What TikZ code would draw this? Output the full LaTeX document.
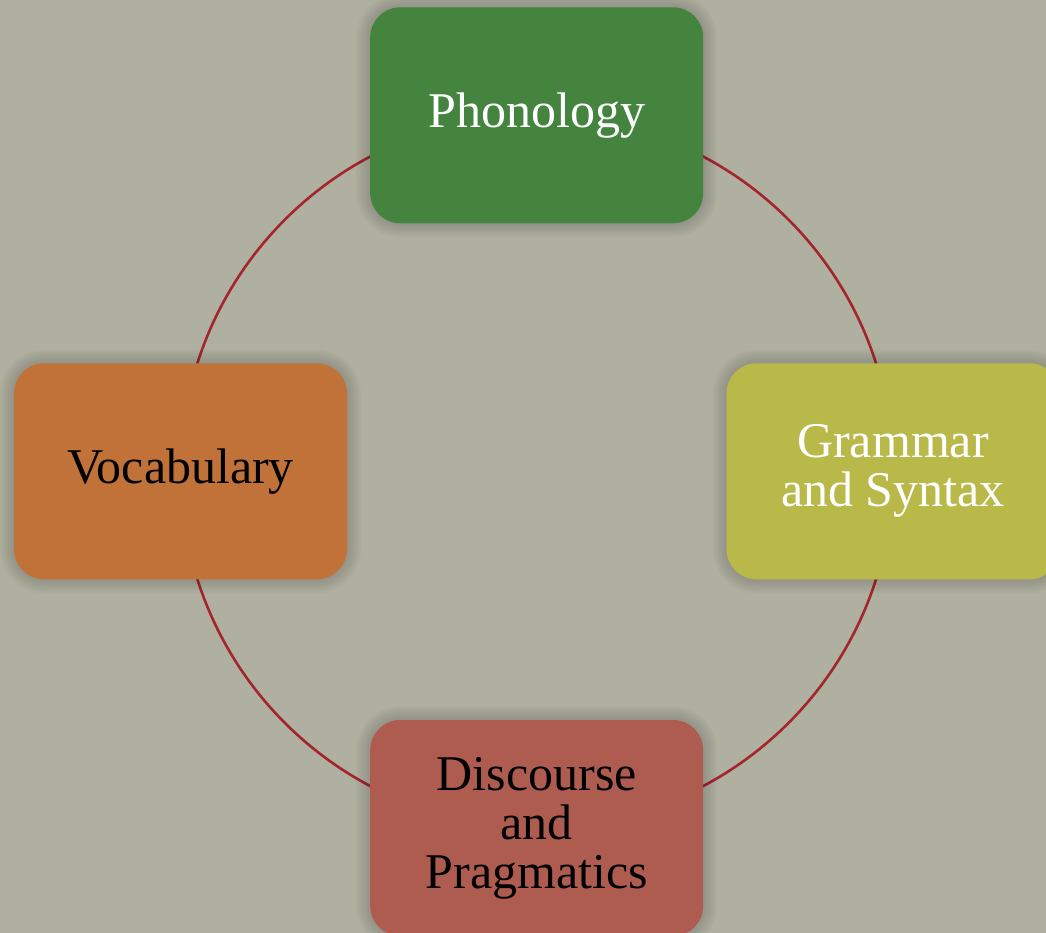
\documentclass[tikz,border=0pt]{standalone}
\usepackage{fontspec}
\setmainfont{Liberation Serif}
\definecolor{bgcol}{HTML}{B0B0A0}
\definecolor{ringcol}{HTML}{A3262E}
\definecolor{phocol}{HTML}{44843E}
\definecolor{gracol}{HTML}{B8B948}
\definecolor{voccol}{HTML}{C07238}
\definecolor{discol}{HTML}{AE5C50}
\tikzset{
  topicbox/.style={rectangle, rounded corners=30pt, minimum width=333pt, minimum height=216pt,
    inner sep=0pt, align=center, font=\fontsize{50}{49}\selectfont},
  halo/.style={rectangle, rounded corners=30pt+#1, minimum width=333pt+2*#1, minimum height=216pt+2*#1,
    fill=black, fill opacity=0.018, draw=none, inner sep=0pt},
  ring/.style={draw=ringcol, line width=2.6pt}
}
\newcommand{\shadowlayers}[2]{%
  \foreach \s in {2,4,...,14} {\node[halo=\s pt] (#2sh\s) at #1 {};}%
}
\begin{document}
\begin{tikzpicture}[x=1pt,y=-1pt]
\useasboundingbox (0,0) rectangle (1046,933);
\clip (0,0) rectangle (1046,933);
\fill[bgcol] (0,0) rectangle (1046,933);
\coordinate (center) at (536.7,471.3);
\draw[ring] (center) circle (356pt);
% shadows
\shadowlayers{(536.7,115.3)}{pho}
\shadowlayers{(180.5,471.3)}{voc}
\shadowlayers{(893,471.3)}{gra}
\shadowlayers{(536.7,828)}{dis}
% boxes
\node[topicbox, fill=phocol, text=white] (pho) at (536.7,115.3) {Phonology};
\node[topicbox, fill=voccol, text=black] (voc) at (180.5,471.3) {Vocabulary};
\node[topicbox, fill=gracol, text=white] (gra) at (893,471.3) {Grammar\\and Syntax};
\node[topicbox, fill=discol, text=black] (dis) at (536.7,828) {Discourse\\and\\Pragmatics};
\end{tikzpicture}
\end{document}
